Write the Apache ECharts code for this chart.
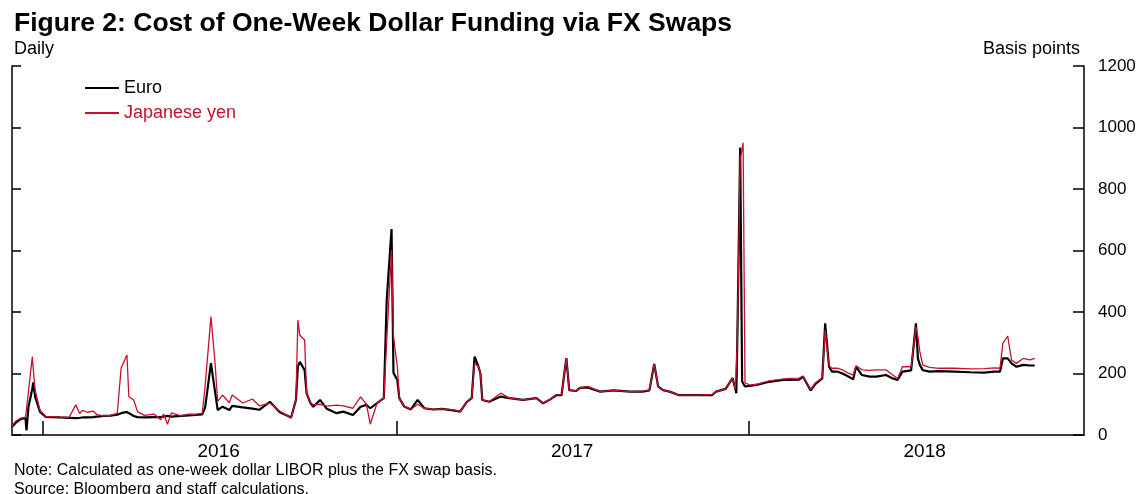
<!DOCTYPE html>
<html>
<head>
<meta charset="utf-8">
<script src="https://cdn.jsdelivr.net/npm/echarts@6/dist/echarts.min.js"></script>
<style>
  html, body { margin: 0; padding: 0; background: #fff; }
  #chart { width: 1140px; height: 494px; }
</style>
</head>
<body>
<div id="chart"></div>
<script>
var chart = echarts.init(document.getElementById("chart"));

// dates (roughly weekly, plus the spike days)
var dates = [
  "2015-11-30", "2015-12-04", "2015-12-09", "2015-12-14", "2015-12-15", "2015-12-17", "2015-12-21", "2015-12-22", "2015-12-24", "2015-12-29",
  "2016-01-04", "2016-01-11", "2016-01-19", "2016-01-28", "2016-02-04", "2016-02-08", "2016-02-11", "2016-02-16", "2016-02-22", "2016-02-26",
  "2016-03-04", "2016-03-11", "2016-03-18", "2016-03-22", "2016-03-28", "2016-03-30", "2016-04-04", "2016-04-08", "2016-04-15", "2016-04-25",
  "2016-05-02", "2016-05-05", "2016-05-09", "2016-05-13", "2016-05-23", "2016-05-31", "2016-06-07", "2016-06-14", "2016-06-17", "2016-06-23",
  "2016-06-27", "2016-06-30", "2016-07-05", "2016-07-12", "2016-07-15", "2016-07-26", "2016-08-05", "2016-08-12", "2016-08-23", "2016-09-02",
  "2016-09-14", "2016-09-19", "2016-09-21", "2016-09-23", "2016-09-28", "2016-09-30", "2016-10-04", "2016-10-07", "2016-10-14", "2016-10-21",
  "2016-10-31", "2016-11-07", "2016-11-17", "2016-11-25", "2016-12-01", "2016-12-05", "2016-12-12", "2016-12-19", "2016-12-22", "2016-12-27",
  "2016-12-29", "2017-01-02", "2017-01-04", "2017-01-09", "2017-01-16", "2017-01-23", "2017-01-30", "2017-02-08", "2017-02-17", "2017-03-01",
  "2017-03-08", "2017-03-15", "2017-03-20", "2017-03-23", "2017-03-27", "2017-03-29", "2017-03-31", "2017-04-07", "2017-04-19", "2017-04-28",
  "2017-05-12", "2017-05-26", "2017-06-02", "2017-06-09", "2017-06-16", "2017-06-21", "2017-06-26", "2017-06-29", "2017-07-06", "2017-07-10",
  "2017-07-18", "2017-07-31", "2017-08-14", "2017-08-31", "2017-09-13", "2017-09-20", "2017-09-25", "2017-09-29", "2017-10-04", "2017-10-11",
  "2017-10-20", "2017-11-10", "2017-11-24", "2017-11-28", "2017-12-08", "2017-12-15", "2017-12-18", "2017-12-19", "2017-12-20", "2017-12-23",
  "2017-12-25", "2017-12-26", "2017-12-28", "2018-01-02", "2018-01-09", "2018-01-22", "2018-02-05", "2018-02-12", "2018-02-22", "2018-02-26",
  "2018-03-06", "2018-03-11", "2018-03-18", "2018-03-21", "2018-03-25", "2018-03-28", "2018-04-03", "2018-04-08", "2018-04-14", "2018-04-19",
  "2018-04-22", "2018-04-28", "2018-05-06", "2018-05-13", "2018-05-23", "2018-05-30", "2018-06-04", "2018-06-09", "2018-06-18", "2018-06-23",
  "2018-06-25", "2018-06-27", "2018-06-30", "2018-07-07", "2018-07-17", "2018-08-02", "2018-08-18", "2018-09-02", "2018-09-12", "2018-09-18",
  "2018-09-21", "2018-09-26", "2018-09-30", "2018-10-05", "2018-10-12", "2018-10-19", "2018-10-24"
];

// basis points
var euro = [
  27, 40, 52, 55, 15, 90, 150, 171, 124, 75,
  59, 58, 57, 56, 55, 56, 57, 57, 58, 60,
  62, 63, 66, 71, 75, 73, 62, 58, 57, 58,
  58, 60, 62, 60, 62, 64, 65, 67, 90, 234,
  146, 81, 92, 81, 95, 90, 86, 82, 108, 75,
  57, 114, 222, 238, 211, 136, 104, 92, 114, 85,
  71, 76, 65, 92, 98, 87, 104, 120, 439, 670,
  202, 179, 120, 93, 83, 114, 87, 83, 85, 80,
  76, 108, 120, 255, 222, 201, 114, 108, 125, 120,
  114, 120, 103, 115, 130, 130, 250, 146, 143, 153,
  155, 141, 145, 141, 141, 145, 231, 158, 146, 141,
  130, 130, 130, 141, 150, 185, 150, 136, 300, 935,
  175, 168, 158, 160, 163, 173, 179, 179, 180, 190,
  145, 166, 184, 363, 222, 206, 206, 200, 190, 181,
  222, 195, 190, 190, 195, 184, 179, 206, 210, 363,
  249, 228, 211, 206, 208, 206, 204, 203, 206, 206,
  249, 249, 233, 222, 228, 226, 226
];

var yen = [
  30, 45, 55, 58, 60, 140, 254, 215, 146, 80,
  60, 60, 58, 57, 98, 70, 80, 74, 78, 66,
  62, 64, 70, 218, 260, 125, 114, 76, 64, 68,
  50, 68, 35, 72, 62, 68, 68, 70, 160, 385,
  244, 109, 130, 105, 130, 104, 117, 95, 104, 78,
  55, 114, 374, 325, 309, 136, 104, 98, 100, 94,
  97, 95, 87, 124, 100, 35, 104, 120, 309, 602,
  320, 222, 120, 93, 83, 100, 87, 83, 85, 82,
  76, 108, 120, 233, 222, 201, 114, 108, 136, 120,
  114, 120, 103, 115, 130, 132, 250, 146, 143, 153,
  158, 141, 145, 141, 143, 145, 231, 158, 146, 141,
  130, 130, 132, 141, 150, 185, 150, 150, 300, 900,
  930, 950, 170, 162, 165, 176, 182, 184, 185, 192,
  148, 170, 186, 341, 225, 217, 217, 212, 201, 195,
  225, 212, 210, 212, 212, 195, 184, 222, 222, 352,
  320, 271, 228, 220, 217, 217, 215, 216, 218, 217,
  298, 322, 244, 233, 249, 244, 249
];

var yearTicks = ["2016-01-01", "2017-01-01", "2018-01-01"];
var yearLabels = ["2016-07-01", "2017-07-02", "2018-07-02"];
var xStart = "2015-11-30";
var xEnd = "2018-12-14";

function toTime(s) {
  var p = s.split("-");
  return new Date(+p[0], +p[1] - 1, +p[2]).getTime();
}

var euroData = dates.map(function (d, i) { return [toTime(d), euro[i]]; });
var yenData = dates.map(function (d, i) { return [toTime(d), yen[i]]; });

var font = "Liberation Sans";
var red = "#c8102e";

var option = {
  animation: false,
  backgroundColor: "#fff",
  title: [
    {
      text: "Figure 2: Cost of One-Week Dollar Funding via FX Swaps",
      left: 9, top: 5,
      textStyle: { fontFamily: font, fontSize: 26.5, fontWeight: "bold", color: "#000" }
    },
    { text: "Daily", left: 9, top: 35, textStyle: { fontFamily: font, fontSize: 18, fontWeight: "normal", color: "#000" } },
    { text: "Basis points", right: 55, top: 35, textStyle: { fontFamily: font, fontSize: 18, fontWeight: "normal", color: "#000" } },
    { text: "Note: Calculated as one-week dollar LIBOR plus the FX swap basis.", left: 9, top: 458,
      textStyle: { fontFamily: font, fontSize: 16, fontWeight: "normal", color: "#000" } },
    { text: "Source: Bloomberg and staff calculations.", left: 9, top: 477,
      textStyle: { fontFamily: font, fontSize: 16, fontWeight: "normal", color: "#000" } }
  ],
  legend: {
    orient: "vertical",
    left: 80, top: 74,
    itemWidth: 34, itemHeight: 2, itemGap: 7, itemStyle: { borderWidth: 0 },
    icon: "rect",
    textStyle: { fontFamily: font, fontSize: 18 },
    data: [
      { name: "Euro", textStyle: { color: "#000" } },
      { name: "Japanese yen", textStyle: { color: red } }
    ]
  },
  grid: { left: 12, right: 56, top: 66, bottom: 59 },
  xAxis: {
    type: "value",
    min: toTime(xStart),
    max: toTime(xEnd),
    axisLine: { lineStyle: { color: "#000", width: 1.5 } },
    axisTick: {
      inside: true, length: 14,
      lineStyle: { color: "#000", width: 1.5 },
      customValues: yearTicks.map(toTime)
    },
    axisLabel: {
      customValues: yearLabels.map(toTime),
      margin: 7,
      fontFamily: font, fontSize: 19, color: "#000",
      formatter: function (v) { return String(new Date(v).getFullYear()); }
    },
    splitLine: { show: false }
  },
  yAxis: [
    {
      type: "value", position: "right",
      min: 0, max: 1200, interval: 200,
      axisLine: { show: true, lineStyle: { color: "#000", width: 1.5 } },
      axisTick: { show: true, inside: true, length: 11, lineStyle: { color: "#000", width: 1.5 } },
      axisLabel: { margin: 14, fontFamily: font, fontSize: 17, color: "#000",
        formatter: function (v) { return String(v); } },
      splitLine: { show: false }
    },
    {
      type: "value", position: "left",
      min: 0, max: 1200, interval: 200,
      axisLine: { show: true, lineStyle: { color: "#000", width: 1.5 } },
      axisTick: { show: true, inside: true, length: 9, lineStyle: { color: "#000", width: 1.5 } },
      axisLabel: { show: false },
      splitLine: { show: false }
    }
  ],
  series: [
    {
      name: "Euro", type: "line", yAxisIndex: 0,
      data: euroData, showSymbol: false, symbol: "none",
      itemStyle: { color: "#000" },
      lineStyle: { color: "#000", width: 2.2 }
    },
    {
      name: "Japanese yen", type: "line", yAxisIndex: 0,
      data: yenData, showSymbol: false, symbol: "none",
      itemStyle: { color: red },
      lineStyle: { color: red, width: 1.3 }
    }
  ]
};

chart.setOption(option);
</script>
</body>
</html>
